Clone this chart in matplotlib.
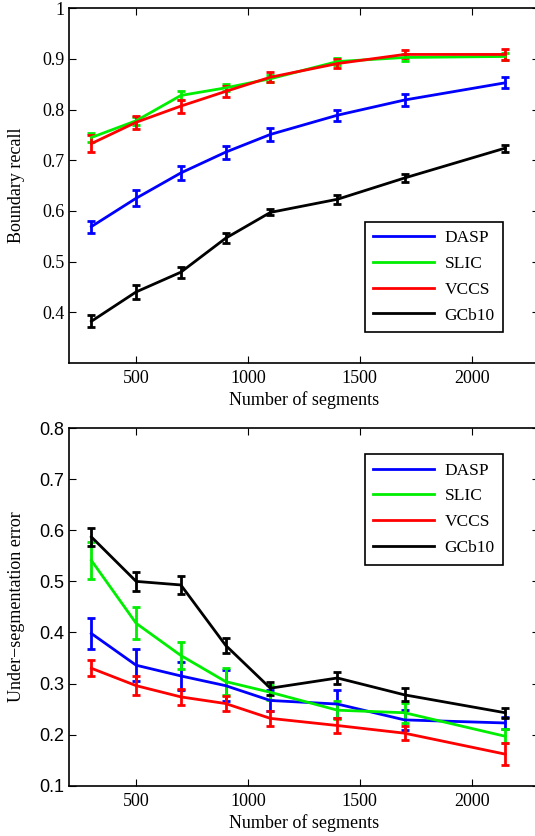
import matplotlib
matplotlib.use("Agg")
import matplotlib.pyplot as plt

plt.rcParams["font.family"] = ["Liberation Serif", "DejaVu Serif"]

segments = [300, 500, 700, 900, 1100, 1400, 1700, 2150]
methods = ["DASP", "SLIC", "VCCS", "GCb10"]
colours = ["#0000ff", "#00ee00", "#ff0000", "#000000"]

# boundary recall (mean, error)
recall = {
    "DASP": [0.569, 0.625, 0.675, 0.716, 0.751, 0.789, 0.819, 0.853],
    "SLIC": [0.745, 0.778, 0.828, 0.843, 0.861, 0.895, 0.903, 0.905],
    "VCCS": [0.733, 0.775, 0.807, 0.836, 0.864, 0.891, 0.909, 0.909],
    "GCb10": [0.382, 0.440, 0.479, 0.546, 0.597, 0.623, 0.665, 0.724],
}
recall_err = {
    "DASP": [0.012, 0.016, 0.014, 0.013, 0.012, 0.011, 0.011, 0.011],
    "SLIC": [0.008, 0.008, 0.008, 0.007, 0.007, 0.006, 0.006, 0.006],
    "VCCS": [0.016, 0.013, 0.013, 0.011, 0.010, 0.009, 0.008, 0.011],
    "GCb10": [0.012, 0.014, 0.011, 0.010, 0.006, 0.009, 0.008, 0.007],
}

# under-segmentation error (mean, error)
useg = {
    "DASP": [0.398, 0.336, 0.315, 0.296, 0.267, 0.260, 0.229, 0.223],
    "SLIC": [0.541, 0.418, 0.355, 0.304, 0.283, 0.248, 0.243, 0.197],
    "VCCS": [0.330, 0.296, 0.274, 0.261, 0.232, 0.218, 0.203, 0.162],
    "GCb10": [0.587, 0.500, 0.493, 0.375, 0.291, 0.311, 0.278, 0.243],
}
useg_err = {
    "DASP": [0.031, 0.031, 0.028, 0.030, 0.020, 0.028, 0.020, 0.012],
    "SLIC": [0.037, 0.031, 0.027, 0.026, 0.015, 0.018, 0.020, 0.014],
    "VCCS": [0.016, 0.018, 0.015, 0.014, 0.014, 0.014, 0.014, 0.021],
    "GCb10": [0.018, 0.018, 0.017, 0.015, 0.013, 0.011, 0.013, 0.010],
}

fig = plt.figure(figsize=(5.35, 8.36), dpi=100)
ax1 = fig.add_axes([0.129, 0.566, 0.878, 0.424])
ax2 = fig.add_axes([0.129, 0.060, 0.878, 0.428])


def draw(ax, data, err, ylim, yticks, ylabel, legend_box, tickfont):
    for name, col in zip(methods, colours):
        ax.errorbar(segments, data[name], yerr=err[name], color=col, lw=2,
                    elinewidth=2, capsize=3, capthick=2, label=name)
    ax.set_xlim(200, 2300)
    ax.set_ylim(*ylim)
    ax.set_xticks([500, 1000, 1500, 2000])
    ax.set_yticks(yticks)
    ax.set_yticklabels([("%g" % t) if t == 1 else "%.1f" % t for t in yticks],
                       fontsize=13, family=tickfont)
    ax.tick_params(axis="x", labelsize=13, pad=5)
    ax.tick_params(direction="in", top=True, right=True, length=5, width=0.8)
    ax.set_xlabel("Number of segments", fontsize=13, labelpad=3)
    ax.set_ylabel(ylabel, fontsize=13)
    ax.yaxis.set_label_coords(-0.093, 0.5)
    for s in ax.spines.values():
        s.set_linewidth(1.2)
    handles = [plt.Line2D([], [], color=c, lw=2) for c in colours]
    leg = ax.legend(handles, methods, loc="upper left",
                    bbox_to_anchor=legend_box, fontsize=12.5,
                    fancybox=False, edgecolor="black", framealpha=1,
                    handlelength=3.5, handletextpad=0.6, labelspacing=0.55,
                    borderpad=0.5)
    leg.get_frame().set_linewidth(1.2)


draw(ax1, recall, recall_err, (0.3, 1.0),
     [0.4, 0.5, 0.6, 0.7, 0.8, 0.9, 1.0], "Boundary recall",
     (0.611, 0.423), "Liberation Serif")
draw(ax2, useg, useg_err, (0.1, 0.8),
     [0.1, 0.2, 0.3, 0.4, 0.5, 0.6, 0.7, 0.8], "Under\u2212segmentation error",
     (0.611, 0.952), "Liberation Sans")

fig.savefig("out.png", dpi=100)
